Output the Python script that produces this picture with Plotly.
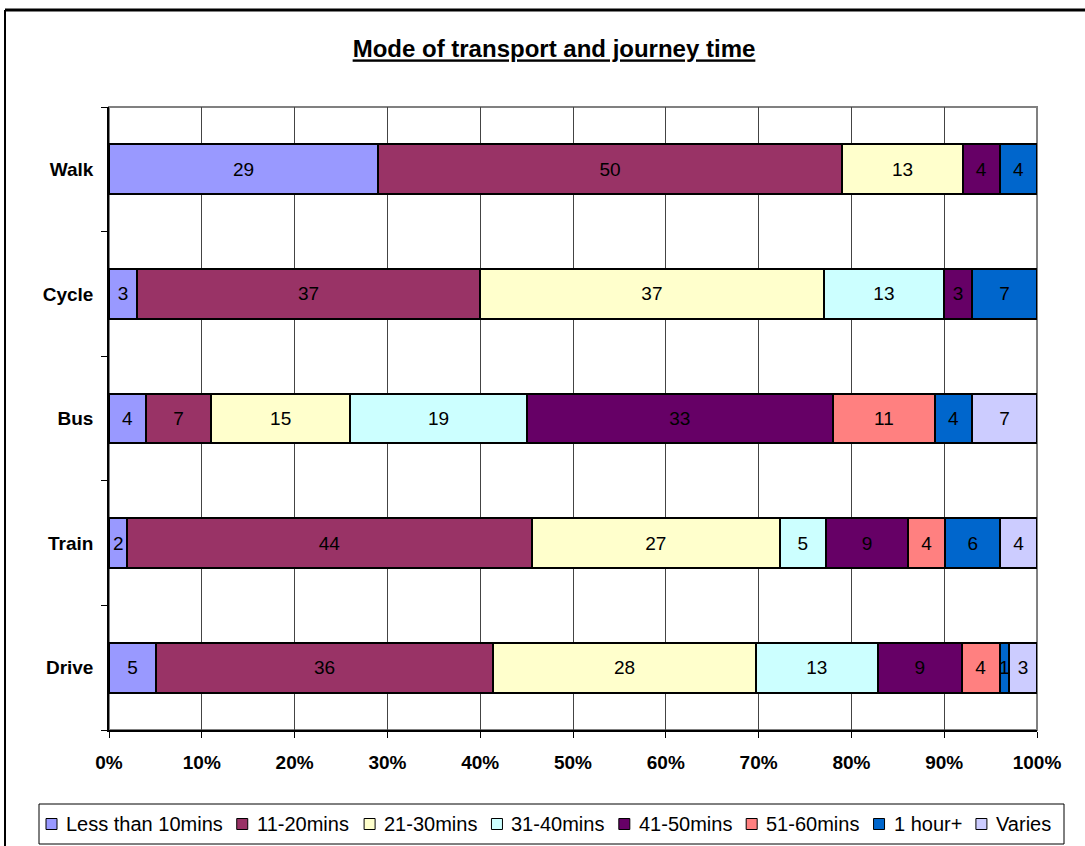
import plotly.graph_objects as go

# Categories (top to bottom as shown)
modes = ['Walk', 'Cycle', 'Bus', 'Train', 'Drive']

# Journey time bands (legend order)
bands = ['Less than 10mins', '11-20mins', '21-30mins', '31-40mins',
         '41-50mins', '51-60mins', '1 hour+', 'Varies']

# Values per band, in the order of `modes` (None = no segment)
less_10 = [29, 3, 4, 2, 5]
mins_11_20 = [50, 37, 7, 44, 36]
mins_21_30 = [13, 37, 15, 27, 28]
mins_31_40 = [None, 13, 19, 5, 13]
mins_41_50 = [4, 3, 33, 9, 9]
mins_51_60 = [None, None, 11, 4, 4]
hour_plus = [4, 7, 4, 6, 1]
varies = [None, None, 7, 4, 3]

x_ticks = [0, 10, 20, 30, 40, 50, 60, 70, 80, 90, 100]
x_tick_labels = [f"{t}%" for t in x_ticks]

# Classic spreadsheet palette
COLORS = ['#9999FF', '#993366', '#FFFFCC', '#CCFFFF',
          '#660066', '#FF8080', '#0066CC', '#CCCCFF']

series = [less_10, mins_11_20, mins_21_30, mins_31_40,
          mins_41_50, mins_51_60, hour_plus, varies]

FONT = 'Liberation Sans, Arial, sans-serif'

fig = go.Figure()

for name, values, color in zip(bands, series, COLORS):
    fig.add_trace(
        go.Bar(
            name=name,
            x=values,
            y=modes,
            orientation='h',
            marker=dict(color=color, line=dict(color='black', width=2)),
            text=['' if v is None else str(v) for v in values],
            textposition='inside',
            insidetextanchor='middle',
            textangle=0,
            constraintext='none',
            textfont=dict(color='black', size=19, family=FONT),
            showlegend=False,
            hovertemplate=name + ": %{text}<extra>%{y}</extra>"
        )
    )

# Plot area geometry (pixels)
W, H = 1085, 846
L, R, T, B = 109, 48, 107, 116
pw, ph = W - L - R, H - T - B


def px_x(px):
    return (px - L) / pw


def px_y(py):
    return (H - B - py) / ph


# Single-row legend drawn by hand (the built-in one wraps at this size).
# Arial / Liberation Sans advance widths, per 1000 em.
ARIAL_W = {' ': 278, '+': 584, '-': 333, 'L': 556, 'V': 667, 'a': 556,
           'e': 556, 'h': 556, 'i': 222, 'm': 833, 'n': 556, 'o': 556,
           'r': 333, 's': 500, 't': 278, 'u': 556}
LEG_SIZE = 20
LEG_BOX = (39, 1064, 804, 844)
LEG_MID = 824
SQ = 11


def text_width(s, size):
    return sum(ARIAL_W.get(c, 556) for c in s) * size / 1000


shapes = [
    # Outer chart frame: top and left edges only
    dict(type='line', xref='paper', yref='paper',
         x0=px_x(5), x1=px_x(1200), y0=px_y(10), y1=px_y(10),
         line=dict(color='black', width=3), layer='below'),
    dict(type='line', xref='paper', yref='paper',
         x0=px_x(5), x1=px_x(5), y0=px_y(10), y1=px_y(900),
         line=dict(color='black', width=2), layer='below'),
    # Plot area border (grey)
    dict(type='rect', xref='paper', yref='paper',
         x0=0, x1=1, y0=0, y1=1,
         line=dict(color='#808080', width=2), layer='below'),
    # Legend box
    dict(type='rect', xref='paper', yref='paper',
         x0=px_x(LEG_BOX[0]), x1=px_x(LEG_BOX[1]),
         y0=px_y(LEG_BOX[3]), y1=px_y(LEG_BOX[2]),
         line=dict(color='black', width=1), fillcolor='white', layer='above'),
]
annotations = []

cursor = 46
for name, color in zip(bands, COLORS):
    shapes.append(dict(
        type='rect', xref='paper', yref='paper',
        x0=px_x(cursor), x1=px_x(cursor + SQ),
        y0=px_y(LEG_MID + SQ / 2), y1=px_y(LEG_MID - SQ / 2),
        fillcolor=color, line=dict(color='black', width=1), layer='above'
    ))
    text_x = cursor + SQ + 7
    annotations.append(dict(
        text=name, xref='paper', yref='paper',
        x=px_x(text_x), y=px_y(LEG_MID),
        xanchor='left', yanchor='middle', showarrow=False,
        font=dict(size=LEG_SIZE, family=FONT, color='black')
    ))
    cursor = text_x + text_width(name, LEG_SIZE) + 16

fig.update_layout(
    barmode='stack',
    barnorm='percent',
    bargap=0.6,
    width=W,
    height=H,
    margin=dict(l=L, r=R, t=T, b=B),
    plot_bgcolor='white',
    paper_bgcolor='white',
    font=dict(family=FONT, color='black'),
    showlegend=False,
    title=dict(
        text='<b><u>Mode of transport and journey time</u></b>',
        x=px_x(554), xref='paper', xanchor='center',
        y=1 - 49 / H, yanchor='middle',
        font=dict(size=24, family=FONT, color='black')
    ),
    shapes=shapes,
    annotations=annotations
)

fig.update_xaxes(
    range=[0, 100],
    tickmode='array',
    tickvals=x_ticks,
    ticktext=x_tick_labels,
    tickfont=dict(size=19, family=FONT, weight='bold'),
    ticks='outside', ticklen=6, tickcolor='black',
    ticklabelstandoff=8,
    showgrid=True, gridcolor='#444444', gridwidth=1,
    showline=True, linecolor='black', linewidth=1.5,
    zeroline=False,
    fixedrange=True
)

fig.update_yaxes(
    categoryorder='array',
    categoryarray=modes[::-1],
    tickson='boundaries',
    ticks='outside', ticklen=6, tickcolor='black',
    tickfont=dict(size=19, family=FONT, weight='bold'),
    ticklabelstandoff=10,
    showgrid=False,
    showline=True, linecolor='black', linewidth=1.5,
    fixedrange=True
)

fig.write_html(
    "out.html",
    config={'displayModeBar': False},
    post_script="document.body.style.margin='0';"
)
